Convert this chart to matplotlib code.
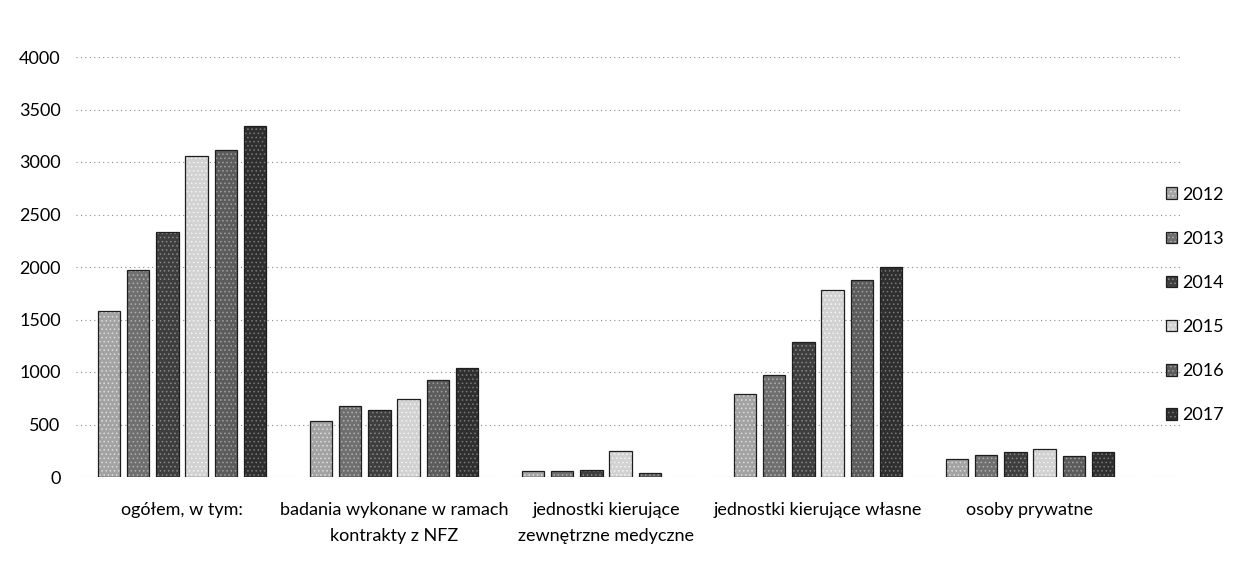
import matplotlib
matplotlib.use("Agg")
import matplotlib.pyplot as plt
import numpy as np

categories = ["ogółem, w tym:", "badania wykonane w ramach\nkontrakty z NFZ",
              "jednostki kierujące\nzewnętrzne medyczne", "jednostki kierujące własne",
              "osoby prywatne"]
years = ["2012", "2013", "2014", "2015", "2016", "2017"]
v2012 = [1580, 530, 60, 790, 170]
v2013 = [1970, 680, 60, 970, 210]
v2014 = [2330, 640, 70, 1290, 240]
v2015 = [3060, 740, 250, 1780, 270]
v2016 = [3110, 920, 40, 1880, 200]
v2017 = [3340, 1040, float("nan"), 2000, 240]
series = [v2012, v2013, v2014, v2015, v2016, v2017]
yticks = [0, 500, 1000, 1500, 2000, 2500, 3000, 3500, 4000]

colors = ["#a3a3a3", "#6f6f6f", "#3e3e3e", "#d2d2d2", "#5c5c5c", "#2f2f2f"]
hatch_cols = ["#dcdcdc", "#b0b0b0", "#8a8a8a", "#f4f4f4", "#a0a0a0", "#7a7a7a"]

plt.rcParams['font.family'] = ['Lato', 'DejaVu Sans']
plt.rcParams['hatch.linewidth'] = 0.6

W, H = 1244, 563
fig = plt.figure(figsize=(W / 100, H / 100), dpi=100)
ax_l, ax_r, ax_b, ax_t = 76, 1180, 477, 57
ax = fig.add_axes([ax_l / W, 1 - ax_b / H, (ax_r - ax_l) / W, (ax_b - ax_t) / H])

x = np.arange(len(categories))
step = 0.137
bw = 0.104
for k, (vals, c, hc, yr) in enumerate(zip(series, colors, hatch_cols, years)):
    pos = x + (k - 2.5) * step
    bars = ax.bar(pos, vals, width=bw, color=c, edgecolor="#1e1e1e", linewidth=0.9,
                  label=yr, zorder=3)
    for b in bars:
        b.set_hatch("....")
        b._hatch_color = matplotlib.colors.to_rgba(hc)

ax.set_ylim(0, 4000)
ax.set_xlim((ax_l - 182) / 212, (ax_r - 182) / 212)
ax.set_yticks(yticks)
ax.set_yticklabels([str(t) for t in yticks], fontsize=13)
ax.yaxis.grid(True, linestyle=(0, (1, 3)), color="#8a8a8a", linewidth=0.8, zorder=0)
ax.set_xticks(x)
ax.set_xticklabels(categories, fontsize=13, linespacing=1.75)
ax.tick_params(axis="x", length=0, pad=18)
ax.tick_params(axis="y", length=0, pad=11)
for s in ax.spines.values():
    s.set_visible(False)

fig.legend(loc="center left", bbox_to_anchor=(1150 / W, 1 - 305 / H), frameon=False,
           fontsize=13, handlelength=0.6, handleheight=0.6, handletextpad=0.3,
           labelspacing=1.56)

fig.savefig("out.png", dpi=100)
